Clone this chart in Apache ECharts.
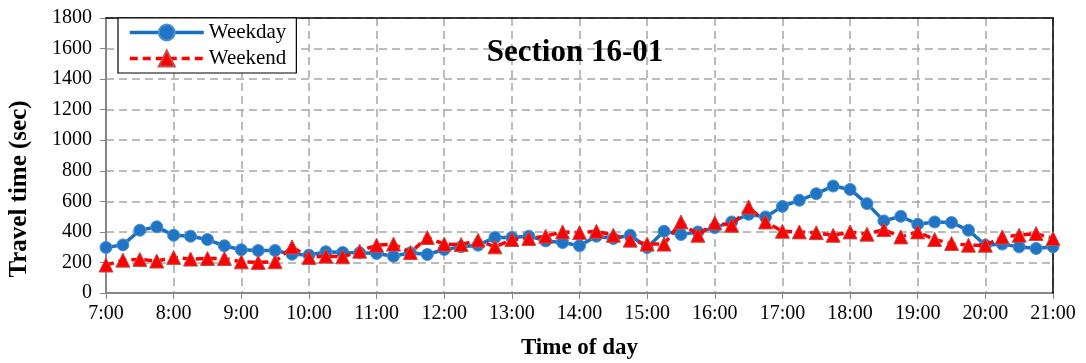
<!DOCTYPE html>
<html>
<head>
<meta charset="utf-8">
<script src="https://cdn.jsdelivr.net/npm/echarts@6/dist/echarts.min.js"></script>
<style>
  html, body { margin: 0; padding: 0; background: #fff; }
  #chart { width: 1086px; height: 363px; }
</style>
</head>
<body>
<div id="chart"></div>
<script>
// Hour labels shown on the time axis; samples every 15 minutes between them
const hourLabels = ['7:00','8:00','9:00','10:00','11:00','12:00','13:00','14:00',
                    '15:00','16:00','17:00','18:00','19:00','20:00','21:00'];
const quarterSuffixes = [':00', ':15', ':30', ':45'];

// Travel time (sec), 7:00 to 21:00 in 15-minute steps
const weekday = [
  298, 315, 411, 433, 378, 372, 350, 309, 283, 278, 278, 254,
  248, 270, 265, 263, 259, 241, 263, 252, 285, 302, 313, 363,
  363, 372, 341, 330, 309, 372, 357, 378, 298, 404, 383, 400,
  428, 465, 515, 498, 567, 607, 650, 700, 678, 585, 472, 502,
  450, 465, 461, 411, 313, 320, 302, 291, 302
];
const weekend = [
  183, 215, 220, 209, 233, 222, 226, 226, 204, 200, 204, 302,
  233, 241, 237, 274, 313, 320, 265, 363, 320, 317, 346, 302,
  350, 357, 372, 400, 395, 404, 378, 346, 320, 320, 465, 378,
  459, 443, 563, 465, 404, 400, 395, 378, 400, 385, 415, 367,
  400, 350, 324, 313, 313, 367, 378, 389, 357
];

const yTicks = { min: 0, max: 1800, interval: 200 };

// Build the 15-minute category list from the hour labels
const categories = [];
hourLabels.forEach((h, i) => {
  const hr = h.split(':')[0];
  if (i === hourLabels.length - 1) { categories.push(h); return; }
  quarterSuffixes.forEach(s => categories.push(hr + s));
});

const serif = '"Liberation Serif", "Times New Roman", serif';
const gridLine = { color: '#a6a6a6', type: [8, 5], width: 1.5 };
const chart = echarts.init(document.getElementById('chart'));

chart.setOption({
  animation: false,
  backgroundColor: '#ffffff',
  textStyle: { fontFamily: serif },
  grid: {
    left: 106, right: 33, top: 18, bottom: 70,
    outerBoundsMode: 'none'
  },
  graphic: [
    {
      type: 'text',
      x: 575, y: 53,
      style: {
        text: 'Section 16-01',
        font: 'bold 31px ' + serif,
        fill: '#000',
        textAlign: 'center',
        textVerticalAlign: 'middle'
      },
      z: 10
    },
    {
      type: 'text',
      x: 20, y: 189,
      rotation: Math.PI / 2,
      style: {
        text: 'Travel time (sec)',
        font: 'bold 25px ' + serif,
        fill: '#000',
        textAlign: 'center',
        textVerticalAlign: 'middle'
      }
    }
  ],
  legend: {
    orient: 'vertical',
    left: 118, top: 18,
    padding: [4, 10, 4, 10],
    itemGap: 5,
    itemWidth: 74, itemHeight: 20,
    borderColor: '#000', borderWidth: 1.2,
    backgroundColor: '#fff',
    textStyle: { fontFamily: serif, fontSize: 21, color: '#000', padding: [0, 0, 0, 0] },
    data: [
      { name: 'Weekday', lineStyle: { width: 3.5 } },
      { name: 'Weekend', lineStyle: { width: 3.5 } }
    ]
  },
  xAxis: [
    {
      type: 'category',
      data: categories,
      boundaryGap: false,
      name: 'Time of day',
      nameLocation: 'middle',
      nameGap: 44,
      nameTextStyle: { fontFamily: serif, fontSize: 23, fontWeight: 'bold', color: '#000' },
      axisLine: { lineStyle: { color: '#868686', width: 2 } },
      axisTick: { show: true, interval: 3, length: 6, lineStyle: { color: '#868686' } },
      axisLabel: { interval: 3, margin: 11, fontSize: 20, color: '#000', fontFamily: serif },
      splitLine: { show: true, interval: 3, lineStyle: gridLine },
      z: 2
    },
    {
      // plot-area frame, top edge
      type: 'category',
      data: categories,
      boundaryGap: false,
      position: 'top',
      axisLine: { show: true, onZero: false, lineStyle: { color: '#000', width: 1.5 } },
      axisTick: { show: false },
      axisLabel: { show: false },
      splitLine: { show: false },
      z: 3
    }
  ],
  yAxis: [
    {
      type: 'value',
      min: yTicks.min, max: yTicks.max, interval: yTicks.interval,
      axisLine: { show: true, lineStyle: { color: '#868686', width: 2 } },
      axisTick: { show: true, length: 6, lineStyle: { color: '#868686' } },
      axisLabel: { margin: 14, fontSize: 20, color: '#000', fontFamily: serif, formatter: v => String(v) },
      splitLine: { show: true, lineStyle: gridLine },
      z: 2
    },
    {
      // plot-area frame, right edge
      type: 'value',
      position: 'right',
      min: yTicks.min, max: yTicks.max, interval: yTicks.interval,
      axisLine: { show: true, onZero: false, lineStyle: { color: '#000', width: 1.5 } },
      axisTick: { show: false },
      axisLabel: { show: false },
      splitLine: { show: false },
      z: 3
    }
  ],
  series: [
    {
      name: 'Weekday',
      type: 'line',
      data: weekday,
      symbol: 'circle',
      symbolSize: 12,
      showAllSymbol: true,
      z: 4,
      lineStyle: { color: '#1a70c0', width: 3.5 },
      itemStyle: { color: '#1f74c4', borderColor: '#4b8fd4', borderWidth: 1 }
    },
    {
      name: 'Weekend',
      type: 'line',
      data: weekend,
      symbol: 'triangle',
      symbolSize: 14,
      showAllSymbol: true,
      z: 5,
      lineStyle: { color: '#ff0000', width: 3.5, type: [8, 5] },
      itemStyle: { color: '#ff0000', borderColor: '#c0504d', borderWidth: 1 }
    }
  ]
});
</script>
</body>
</html>
